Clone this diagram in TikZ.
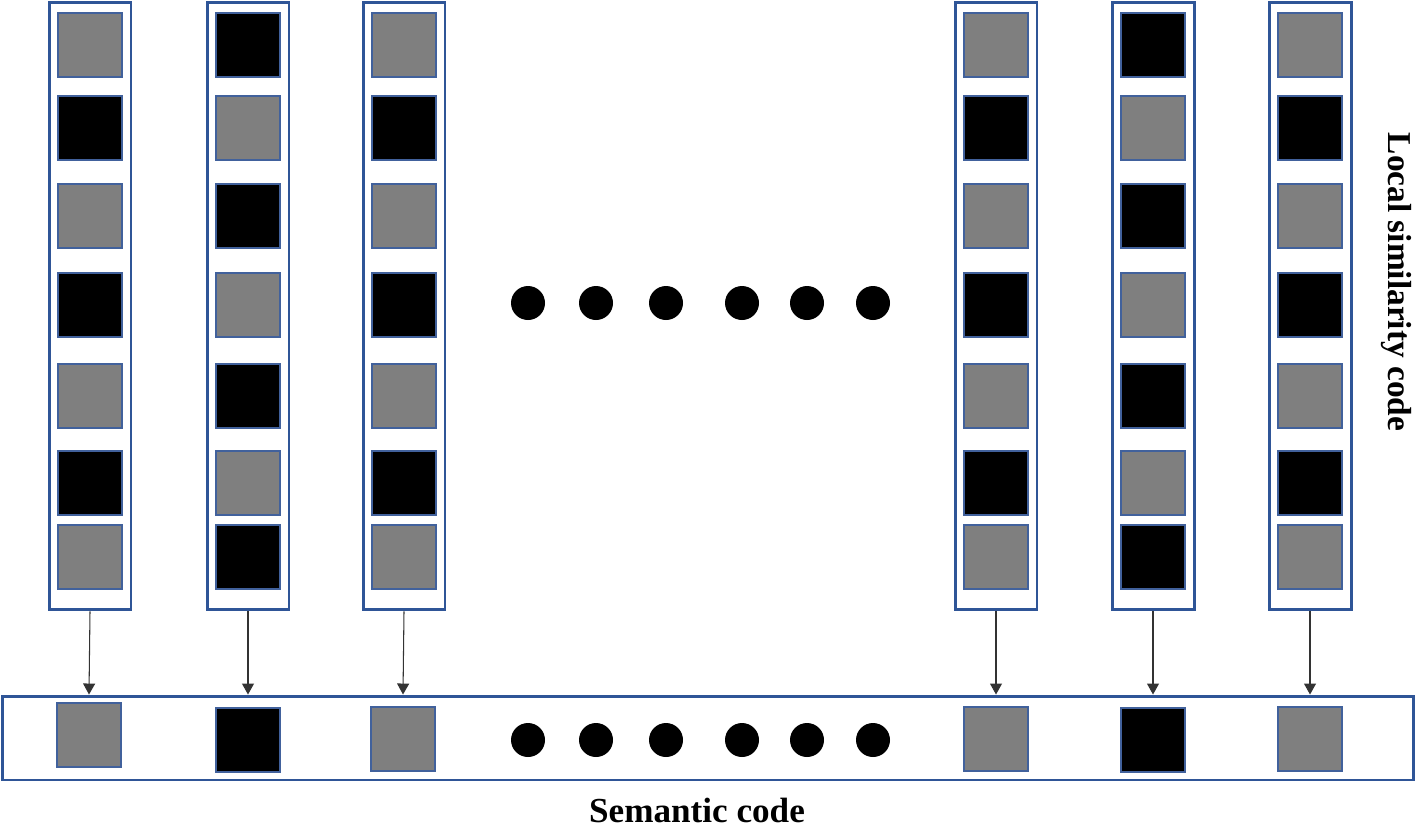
\documentclass[tikz,border=0pt]{standalone}
\usepackage{fontspec}
\setmainfont{Liberation Serif}
\usetikzlibrary{arrows.meta}
\definecolor{boxblue}{HTML}{2F5597}
\definecolor{cellline}{HTML}{41619C}
\definecolor{cellgray}{HTML}{7F7F7F}
\tikzset{
  colbox/.style={draw=boxblue, line width=1.7pt, minimum width=1.64cm, minimum height=12.16cm, inner sep=0pt},
  codebar/.style={draw=boxblue, line width=1.7pt, minimum width=28.24cm, minimum height=1.68cm, inner sep=0pt},
  cell/.style={draw=cellline, line width=0.6pt, minimum size=1.28cm, inner sep=0pt},
  bigdot/.style={circle, fill=black, minimum size=0.68cm, inner sep=0pt},
  feed/.style={draw=black!80, line width=0.6pt, -{Triangle[width=0.24cm,length=0.22cm]}},
  caption/.style={font=\bfseries\fontsize{20}{24}\selectfont, inner sep=0pt}
}
\begin{document}
\begin{tikzpicture}[x=0.02cm,y=-0.02cm]
\useasboundingbox (0,0) rectangle (1416,829);
% local similarity columns
\foreach \c/\x/\s in {1/90/1, 2/248/0, 3/404/1, 4/996/1, 5/1153/0, 6/1310/1}{
  \node[colbox] (col\c) at (\x,306) {};
  \foreach \r/\y in {1/45, 2/128, 3/216, 4/305, 5/396, 6/483, 7/557}{
    \pgfmathtruncatemacro\isgray{mod(\r+\s,2)==0}
    \ifnum\isgray=1 \def\cellfill{cellgray}\else\def\cellfill{black}\fi
    \node[cell, fill=\cellfill] (cell\c-\r) at (\x,\y) {};
  }
}
\foreach \d/\x in {1/528, 2/596, 3/666, 4/742, 5/807, 6/873}
  \node[bigdot] (topdot\d) at (\x,303) {};
% semantic code bar
\node[codebar] (sem) at (708,738) {};
\foreach \c/\x/\y/\f in {1/89/735/cellgray, 2/248/740/black, 3/403/739/cellgray, 4/996/739/cellgray, 5/1153/740/black, 6/1310/739/cellgray}
  \node[cell, fill=\f] (code\c) at (\x,\y) {};
\foreach \d/\x in {1/528, 2/596, 3/666, 4/742, 5/807, 6/873}
  \node[bigdot] (botdot\d) at (\x,740) {};
\foreach \c in {1,...,6}
  \draw[feed] (col\c.south) -- (code\c.north |- sem.north);
% labels
\node[caption, font=\bfseries\fontsize{19}{23}\selectfont, rotate=-90] (localtext) at (1396,282) {Local similarity code};
\node[caption] (semtext) at (697,810) {Semantic code};
\end{tikzpicture}
\end{document}
